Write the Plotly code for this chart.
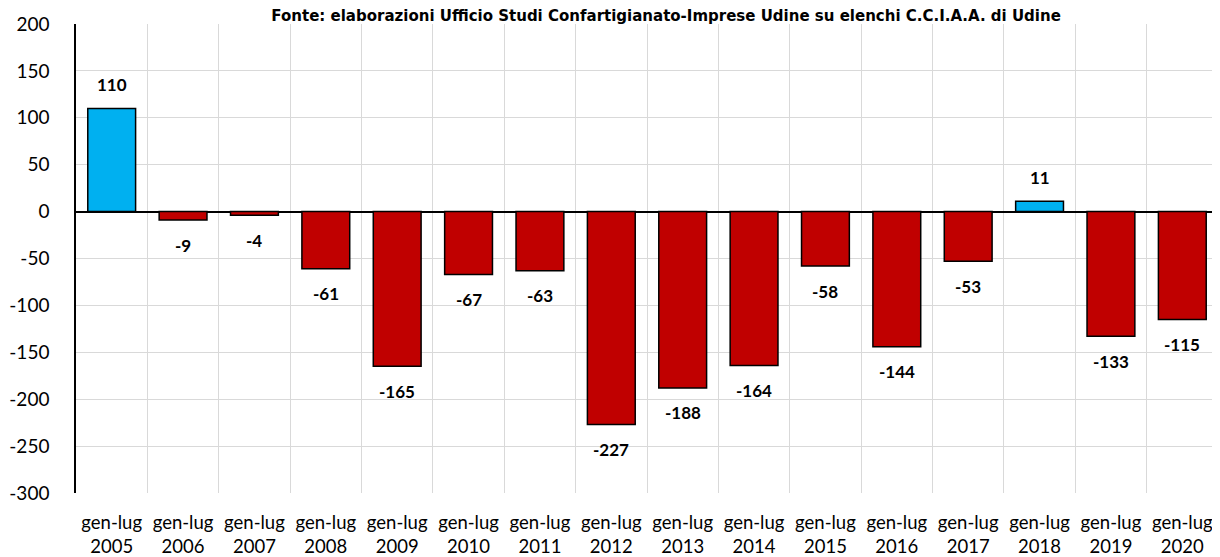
import plotly.graph_objects as go

years = ["2005", "2006", "2007", "2008", "2009", "2010", "2011", "2012",
         "2013", "2014", "2015", "2016", "2017", "2018", "2019", "2020"]
period = "gen-lug"
values = [110, -9, -4, -61, -165, -67, -63, -227, -188, -164, -58, -144, -53, 11, -133, -115]
y_ticks = [200, 150, 100, 50, 0, -50, -100, -150, -200, -250, -300]
title_text = "Fonte: elaborazioni Ufficio Studi Confartigianato-Imprese Udine su elenchi C.C.I.A.A. di Udine"

BLUE = "#00B0F0"
RED = "#C00000"
FONT = "Lato"

xs = list(range(len(years)))
labels = [f"{period}<br>{y}" for y in years]
colors = [BLUE if v > 0 else RED for v in values]

fig = go.Figure()
fig.add_trace(go.Bar(
    x=xs, y=values,
    marker=dict(color=colors, line=dict(color="black", width=1.5)),
    width=0.67,
    hoverinfo="skip",
))

for x, v in zip(xs, values):
    fig.add_annotation(
        x=x, y=v, text=f"<b>{v}</b>", showarrow=False,
        yanchor="middle", yshift=24 if v > 0 else -25,
        font=dict(family=FONT, size=17, color="black"),
    )

fig.update_layout(
    width=1212, height=549,
    margin=dict(l=68, r=2, t=16, b=64),
    paper_bgcolor="white", plot_bgcolor="white",
    showlegend=False,
    title=dict(text=f"<b>{title_text}</b>", x=0.543, xanchor="center",
               y=0.986, yanchor="middle", yref="container",
               font=dict(family="DejaVu Sans", size=15, color="black")),
    font=dict(family=FONT, color="black"),
)

fig.update_xaxes(
    range=[-0.5, len(years) - 0.5],
    tickvals=xs, ticktext=labels,
    tickfont=dict(family=FONT, size=18.5, color="black"),
    showgrid=False, zeroline=False, showline=False, ticks="",
    ticklabelstandoff=16, automargin=False,
    minor=dict(tickvals=[x - 0.5 for x in xs] + [len(years) - 0.5],
               showgrid=True, gridcolor="#D9D9D9", gridwidth=1.3, ticks=""),
)
fig.update_yaxes(
    range=[-300, 200],
    tickvals=y_ticks, ticktext=[str(t) for t in y_ticks],
    tickfont=dict(family=FONT, size=19, color="black"),
    showgrid=True, gridcolor="#D9D9D9", gridwidth=1.3,
    zeroline=True, zerolinecolor="black", zerolinewidth=1.5,
    showline=True, linecolor="black", linewidth=1.5,
    ticks="", ticklabelstandoff=21, automargin=False,
)

fig.write_html("out.html")
